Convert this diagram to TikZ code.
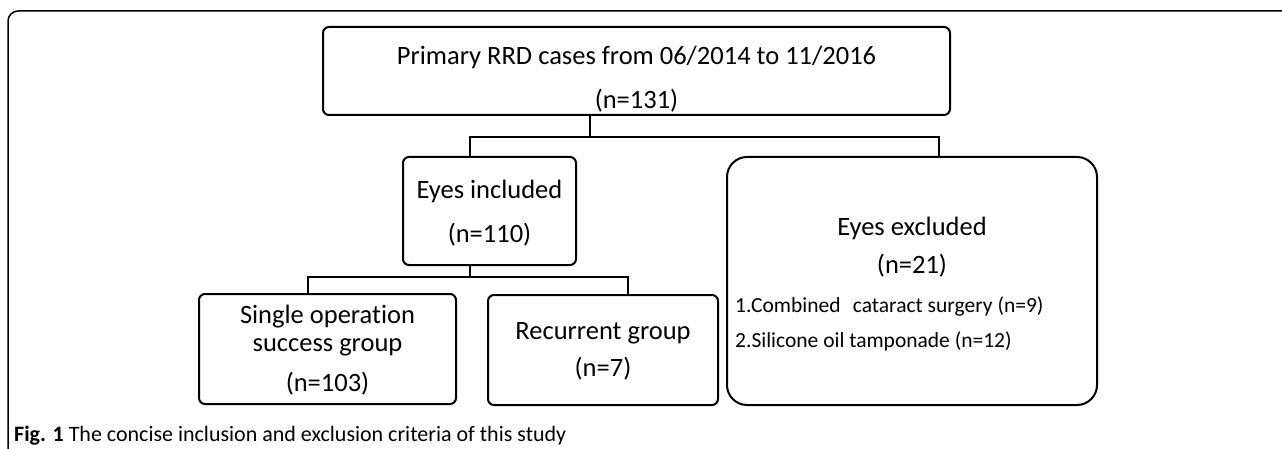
\documentclass[tikz,border=0pt]{standalone}
\usepackage{fontspec}
\setmainfont{Carlito}[Ligatures=NoCommon]
\begin{document}
\begin{tikzpicture}[x=1pt,y=-1pt,
  box/.style={draw, line width=2pt, rounded corners=6pt, inner sep=0pt},
  bigbox/.style={box, rounded corners=20pt},
  link/.style={line width=2pt},
  txt/.style={anchor=base, inner sep=0pt, font=\fontsize{26.5}{31}\selectfont},
  small/.style={anchor=base west, inner sep=0pt, font=\fontsize{21.5}{26}\selectfont},
  captxt/.style={anchor=base west, inner sep=0pt, font=\fontsize{22}{26}\selectfont}]
\useasboundingbox (0,0) rectangle (1282,449);

% outer frame (left and top edges only)
\draw[line width=1.5pt, rounded corners=10pt] (8,449) -- (8,11) -- (1282,11);

% boxes
\node[box, minimum width=627pt, minimum height=88pt] (top) at (636.5,71) {};
\node[box, minimum width=173pt, minimum height=108pt] (inc) at (489.5,211) {};
\node[bigbox, minimum width=370pt, minimum height=248pt] (exc) at (912,281) {};
\node[box, minimum width=257pt, minimum height=110pt] (single) at (327.5,349) {};
\node[box, minimum width=230pt, minimum height=110pt] (rec) at (603,350) {};

% texts
\node[txt] (t1) at (636.5,65) {Primary RRD cases from 06/2014 to 11/2016};
\node[txt] (t2) at (636.5,109) {(n=131)};
\node[txt] (i1) at (489.5,199) {Eyes included};
\node[txt] (i2) at (489.5,242) {(n=110)};
\node[txt] (e1) at (912,235) {Eyes excluded};
\node[txt] (e2) at (912,273) {(n=21)};
\node[small] (e3) at (735,312) {1.Combined\hspace{0.35em} cataract surgery (n=9)};
\node[small] (e4) at (735,347) {2.Silicone oil tamponade (n=12)};
\node[txt] (s1) at (327.5,323) {Single operation};
\node[txt] (s2) at (327.5,351) {success group};
\node[txt] (s3) at (327.5,391) {(n=103)};
\node[txt] (r1) at (603,339) {Recurrent group};
\node[txt] (r2) at (603,376) {(n=7)};

% connectors
\coordinate (b1) at (590,137);
\coordinate (bl) at (470,137);
\coordinate (br) at (939,137);
\draw[link] (top.south -| b1) -- (b1);
\draw[link] (bl |- inc.north) -- (bl) -- (br) -- (br |- exc.north);
\coordinate (c1) at (470,277);
\coordinate (cl) at (308,277);
\coordinate (cr) at (628,277);
\draw[link] (inc.south -| c1) -- (c1);
\draw[link] (cl |- single.north) -- (cl) -- (cr) -- (cr |- rec.north);

% caption
\node[captxt] (cap) at (14,441) {\textbf{Fig. 1} The concise inclusion and exclusion criteria of this study};
\end{tikzpicture}
\end{document}
